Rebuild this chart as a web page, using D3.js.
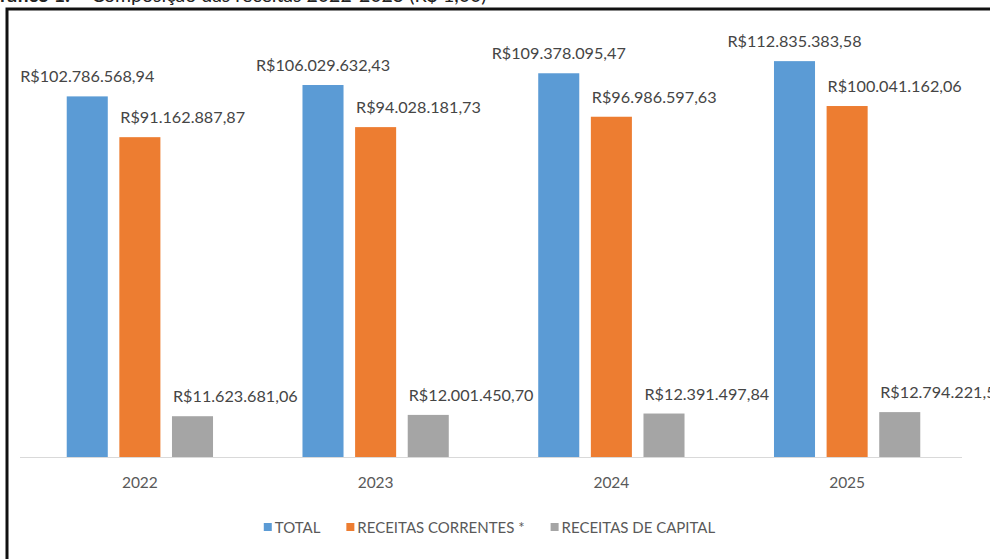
<!DOCTYPE html>
<meta charset="utf-8">
<head>
<style>
  body { margin: 0; background: #fff; }
  svg { display: block; }
  .lbl { font: 16.2px Lato, sans-serif; fill: #454545; }
  .year { font: 15.5px Lato, sans-serif; fill: #595959; }
  .leg { font: 15px Lato, sans-serif; fill: #595959; }
  .title { font: 19.5px Lato, sans-serif; fill: #222; }
</style>
</head>
<body>
<svg id="chart"></svg>
<script src="https://d3js.org/d3.v7.min.js"></script>
<script>
// data
var years = ["2022", "2023", "2024", "2025"];
var seriesNames = ["TOTAL", "RECEITAS CORRENTES *", "RECEITAS DE CAPITAL"];
var total = [102786568.94, 106029632.43, 109378095.47, 112835383.58];
var correntes = [91162887.87, 94028181.73, 96986597.63, 100041162.06];
var capital = [11623681.06, 12001450.70, 12391497.84, 12794221.52];
var colors = ["#5b9bd5", "#ed7d31", "#a5a5a5"];

var W = 990, H = 559;
var svg = d3.select("#chart").attr("width", W).attr("height", H);

// title, cut off at the top like the scan
var title = svg.append("text").attr("class", "title").attr("x", -14).attr("y", 2);
title.append("tspan").attr("font-weight", "bold").text("Gráfico 1: ");
title.append("tspan").text("– Composição das receitas 2022-2025 (R$ 1,00)");

// frame
svg.append("rect")
    .attr("x", 7).attr("y", 9)
    .attr("width", 1000).attr("height", 560)
    .attr("fill", "none").attr("stroke", "#111").attr("stroke-width", 3);

var ptBR = d3.formatLocale({decimal: ",", thousands: ".", grouping: [3], currency: ["R$", ""]});
var fmt = ptBR.format("$,.2f");

var rows = years.map(function(y, i) {
  return {year: y, values: [total[i], correntes[i], capital[i]]};
});

var x0 = d3.scaleBand().domain(years).range([22, 965]);
var x1 = d3.scaleBand().domain(d3.range(seriesNames.length))
    .range([0, x0.bandwidth()])
    .paddingInner(0.22).paddingOuter(0.85);
var y = d3.scaleLinear().domain([0, 120e6]).range([457, 36]);

// baseline
svg.append("line")
    .attr("x1", 20).attr("x2", 962)
    .attr("y1", y(0) + 0.5).attr("y2", y(0) + 0.5)
    .attr("stroke", "#d9d9d9").attr("stroke-width", 1);

var g = svg.selectAll(".grp").data(rows).enter().append("g")
    .attr("transform", function(d) { return "translate(" + x0(d.year) + ",0)"; });

g.selectAll("rect")
    .data(function(d) { return d.values; })
    .enter().append("rect")
    .attr("x", function(d, i) { return x1(i); })
    .attr("width", x1.bandwidth())
    .attr("y", function(d) { return y(d); })
    .attr("height", function(d) { return y(0) - y(d); })
    .attr("fill", function(d, i) { return colors[i]; });

g.selectAll("text.lbl")
    .data(function(d) { return d.values; })
    .enter().append("text")
    .attr("class", "lbl")
    .attr("x", function(d, i) { return i === 0 ? x1(i) + x1.bandwidth() / 2 : x1(i) + 1; })
    .attr("y", function(d) { return y(d) - 14; })
    .attr("text-anchor", function(d, i) { return i === 0 ? "middle" : "start"; })
    .text(function(d) { return fmt(d); });

// year labels
svg.selectAll(".year").data(years).enter().append("text")
    .attr("class", "year")
    .attr("x", function(d) { return x0(d) + x0.bandwidth() / 2; })
    .attr("y", 488)
    .attr("text-anchor", "middle")
    .text(function(d) { return d; });

// legend
var leg = svg.append("g");
var lx = 0;
seriesNames.forEach(function(name, i) {
  var item = leg.append("g").attr("transform", "translate(" + lx + ",0)");
  item.append("rect").attr("x", 0).attr("y", 523).attr("width", 8).attr("height", 8).attr("fill", colors[i]);
  var t = item.append("text").attr("class", "leg").attr("x", 11).attr("y", 533).text(name);
  lx += 11 + t.node().getComputedTextLength() + 26;
});
var legW = lx - 26;
leg.attr("transform", "translate(" + (489.5 - legW / 2) + ",0)");
</script>
</body>
